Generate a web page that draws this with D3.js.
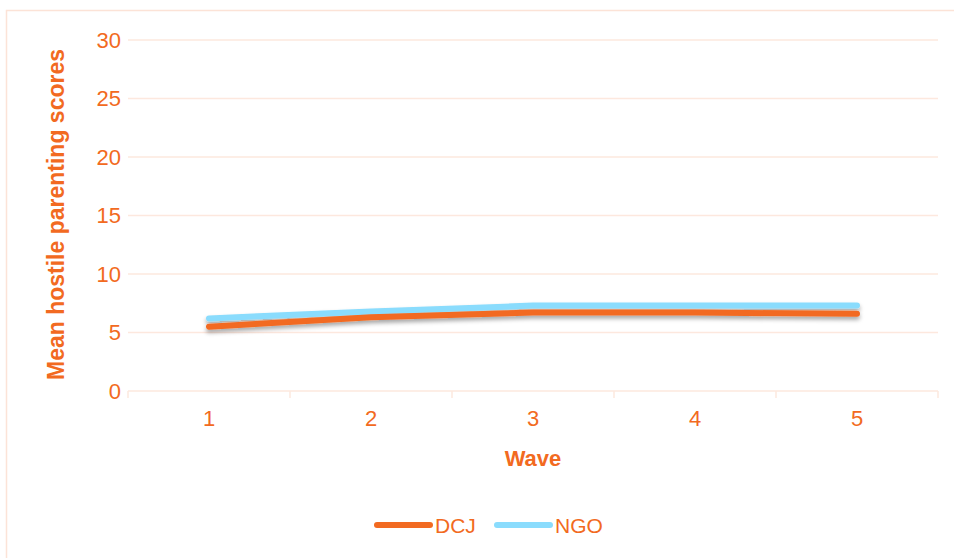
<!DOCTYPE html>
<html>
<head>
<meta charset="utf-8">
<script src="https://cdn.jsdelivr.net/npm/d3@7"></script>
<style>
  html, body { margin: 0; padding: 0; background: #fff; }
  svg { display: block; font-family: "Liberation Sans", Arial, sans-serif; }
</style>
</head>
<body>
<svg id="chart" width="954" height="558"></svg>
<script>
// Mean hostile parenting scores by wave
const waves = ["1", "2", "3", "4", "5"];
const dcj = [5.5, 6.3, 6.7, 6.7, 6.6];
const ngo = [6.2, 6.8, 7.3, 7.3, 7.3];
const yTicks = [0, 5, 10, 15, 20, 25, 30];
const seriesNames = ["DCJ", "NGO"];

const orange = "#F26A21";
const blue = "#8ADCFD";
const gridColor = "#FDE8DE";

const svg = d3.select("#chart");
const margin = { left: 128, right: 16, top: 40, bottom: 167 };
const W = 954, H = 558;

// frame around the chart area
svg.append("rect")
  .attr("x", 6.5).attr("y", 10.5)
  .attr("width", 960).attr("height", 560)
  .attr("fill", "none").attr("stroke", "#FCE3D7").attr("stroke-width", 1.5);

const x = d3.scaleBand().domain(waves).range([margin.left, W - margin.right]);
const y = d3.scaleLinear().domain([0, 30]).range([H - margin.bottom, margin.top]);

const defs = svg.append("defs");
const f = defs.append("filter").attr("id", "shadow")
  .attr("x", "-5%").attr("y", "-100%").attr("width", "110%").attr("height", "400%");
f.append("feDropShadow").attr("dx", 0).attr("dy", 3).attr("stdDeviation", 2.2)
  .attr("flood-color", "#000").attr("flood-opacity", 0.35);

// horizontal gridlines
svg.append("g").selectAll("line").data(yTicks.filter(d => d > 0)).join("line")
  .attr("x1", margin.left).attr("x2", W - margin.right)
  .attr("y1", d => y(d)).attr("y2", d => y(d))
  .attr("stroke", gridColor).attr("stroke-width", 1.5);

// y axis labels
const yAxis = svg.append("g").attr("transform", `translate(${margin.left},0)`)
  .call(d3.axisLeft(y).tickValues(yTicks).tickSize(0).tickPadding(7));
yAxis.select(".domain").remove();
yAxis.selectAll("text").attr("fill", orange).attr("font-size", 22)
  .attr("font-family", "'Liberation Sans', Arial, sans-serif");

// x axis with tick marks at category boundaries
const xAxisG = svg.append("g").attr("transform", `translate(0,${y(0)})`);
xAxisG.append("line")
  .attr("x1", margin.left).attr("x2", W - margin.right)
  .attr("stroke", gridColor).attr("stroke-width", 1.5);
const bounds = waves.map(w => x(w)).concat([x(waves[waves.length - 1]) + x.bandwidth()]);
xAxisG.selectAll("line.tk").data(bounds).join("line").attr("class", "tk")
  .attr("x1", d => d).attr("x2", d => d).attr("y1", 0).attr("y2", 7)
  .attr("stroke", gridColor).attr("stroke-width", 1.5);
const xAxis = svg.append("g").attr("transform", `translate(0,${y(0)})`)
  .call(d3.axisBottom(x).tickSize(0).tickPadding(19));
xAxis.select(".domain").remove();
xAxis.selectAll("text").attr("fill", orange).attr("font-size", 22)
  .attr("font-family", "'Liberation Sans', Arial, sans-serif");

// axis titles
svg.append("text")
  .attr("transform", `translate(64,${(y(0) + y(30)) / 2 - 1}) rotate(-90)`)
  .attr("text-anchor", "middle")
  .attr("fill", orange).attr("font-weight", "bold").attr("font-size", 23)
  .text("Mean hostile parenting scores");
svg.append("text")
  .attr("x", (margin.left + W - margin.right) / 2).attr("y", 466)
  .attr("text-anchor", "middle")
  .attr("fill", orange).attr("font-weight", "bold").attr("font-size", 22)
  .text("Wave");

// series lines
const line = d3.line().x((d, i) => x(waves[i]) + x.bandwidth() / 2).y(d => y(d));
const series = [{ name: "NGO", values: ngo, color: blue }, { name: "DCJ", values: dcj, color: orange }];
svg.append("g").attr("filter", "url(#shadow)").selectAll("path").data(series).join("path")
  .attr("d", d => line(d.values))
  .attr("fill", "none").attr("stroke", d => d.color)
  .attr("stroke-width", 6).attr("stroke-linecap", "round").attr("stroke-linejoin", "round");

// legend
const legendItems = [
  { name: seriesNames[0], color: orange, x: 377 },
  { name: seriesNames[1], color: blue, x: 497 }
];
const lg = svg.append("g").selectAll("g").data(legendItems).join("g")
  .attr("transform", d => `translate(${d.x},525)`);
lg.append("line").attr("x1", 0).attr("x2", 53)
  .attr("stroke", d => d.color).attr("stroke-width", 6).attr("stroke-linecap", "round");
lg.append("text").attr("x", 58).attr("y", 7.5)
  .attr("fill", orange).attr("font-size", 21)
  .text(d => d.name);
</script>
</body>
</html>
